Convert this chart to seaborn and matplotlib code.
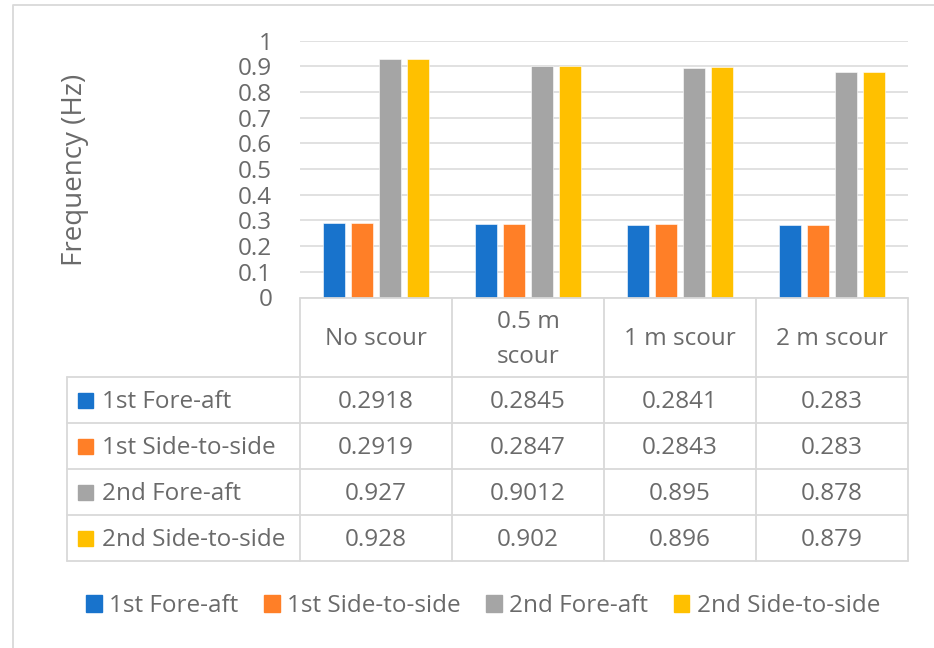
import textwrap
import matplotlib
matplotlib.use("Agg")
import matplotlib.pyplot as plt
from matplotlib.patches import Rectangle
import pandas as pd
import seaborn as sns

# Data
scenarios = ["No scour", "0.5 m scour", "1 m scour", "2 m scour"]
modes = ["1st Fore-aft", "1st Side-to-side", "2nd Fore-aft", "2nd Side-to-side"]
fore_aft_1 = [0.2918, 0.2845, 0.2841, 0.283]
side_1 = [0.2919, 0.2847, 0.2843, 0.283]
fore_aft_2 = [0.927, 0.9012, 0.895, 0.878]
side_2 = [0.928, 0.902, 0.896, 0.879]
series = [fore_aft_1, side_1, fore_aft_2, side_2]
yticks = [0, 0.1, 0.2, 0.3, 0.4, 0.5, 0.6, 0.7, 0.8, 0.9, 1]
ytick_labels = ["0", "0.1", "0.2", "0.3", "0.4", "0.5", "0.6", "0.7", "0.8", "0.9", "1"]

colors = ["#1873CC", "#FF7F27", "#A5A5A5", "#FFC000"]
text_color = "#6A6A6A"
line_color = "#D9D9D9"
FS = 17.5

sns.set_theme(style="white")
plt.rcParams["font.family"] = ["Open Sans", "DejaVu Sans"]

rows = []
for mode, vals in zip(modes, series):
    for sc, v in zip(scenarios, vals):
        rows.append({"scenario": sc, "mode": mode, "freq": v})
df = pd.DataFrame(rows)

W, H = 934, 648
fig = plt.figure(figsize=(W / 100, H / 100), dpi=100)

# Plot area (pixel layout)
left, right, top, bottom = 300, 908, 40.7, 297.5
ax = fig.add_axes([left / W, 1 - bottom / H, (right - left) / W, (bottom - top) / H])
sns.barplot(data=df, x="scenario", y="freq", hue="mode", order=scenarios,
            hue_order=modes, palette=colors, saturation=1, width=0.73, gap=0.2,
            errorbar=None, legend=False, ax=ax, edgecolor="white", linewidth=0.4,
            zorder=3)
ax.set_xlim(-0.5, len(scenarios) - 0.5)
ax.set_ylim(0, 1)
ax.set_yticks(yticks)
ax.set_yticklabels(ytick_labels)
ax.tick_params(axis="y", length=0, pad=20, labelsize=FS, labelcolor=text_color)
ax.set_xticks([])
ax.set_xlabel("")
ax.set_ylabel("")
ax.yaxis.grid(True, color=line_color, linewidth=1.1, zorder=0)
ax.set_axisbelow(True)
for s in ax.spines.values():
    s.set_visible(False)

# Overlay in pixel coordinates for frame, axis title, data table and legend
ov = fig.add_axes([0, 0, 1, 1])
ov.set_xlim(0, W)
ov.set_ylim(H, 0)
ov.axis("off")
ov.patch.set_visible(False)

# chart frame
ov.plot([13, 13, W + 5], [H + 5, 5, 5], color=line_color, lw=1.3)

ov.text(75, 170, "Frequency (Hz)", rotation=90, ha="center", va="center",
        fontsize=20, color=text_color)

# data table grid
col_x = [left + i * (right - left) / len(scenarios) for i in range(len(scenarios) + 1)]
row_y = [377, 423, 469, 515, 561]
tleft = 67
lw = 1.3
ov.plot([left, right], [bottom, bottom], color=line_color, lw=lw)
for x in col_x:
    ov.plot([x, x], [bottom, row_y[-1]], color=line_color, lw=lw)
for y in row_y:
    ov.plot([tleft, right], [y, y], color=line_color, lw=lw)
ov.plot([tleft, tleft], [row_y[0], row_y[-1]], color=line_color, lw=lw)

for i, sc in enumerate(scenarios):
    cx = (col_x[i] + col_x[i + 1]) / 2
    ov.text(cx, (bottom + row_y[0]) / 2 + 2, textwrap.fill(sc, 9), ha="center",
            va="center", fontsize=FS, color=text_color, linespacing=1.6)

for r, (mode, vals, c) in enumerate(zip(modes, series, colors)):
    cy = (row_y[r] + row_y[r + 1]) / 2
    ov.add_patch(Rectangle((78, cy - 7.5), 15, 15, color=c))
    ov.text(102, cy + 2, mode, ha="left", va="center", fontsize=FS, color=text_color)
    for i, v in enumerate(vals):
        cx = (col_x[i] + col_x[i + 1]) / 2
        ov.text(cx, cy + 2, f"{v:g}", ha="center", va="center", fontsize=FS,
                color=text_color)

# legend
handles = [Rectangle((0, 0), 1, 1, color=c) for c in colors]
fig.legend(handles, modes, loc="center", bbox_to_anchor=(483 / W, 1 - 606 / H),
           ncol=4, frameon=False, fontsize=FS, labelcolor=text_color,
           handlelength=0.65, handleheight=0.65, handletextpad=0.3,
           columnspacing=1.05)

fig.savefig("out.png", dpi=100)
